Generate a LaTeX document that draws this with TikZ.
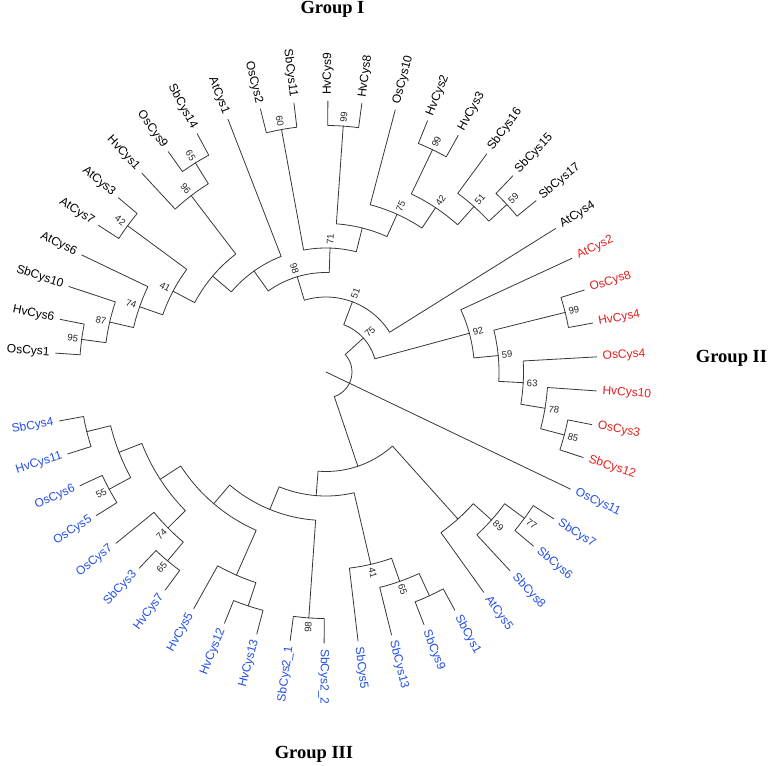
\documentclass[tikz,border=0pt]{standalone}
\usepackage{fontspec}
\setmainfont{Liberation Sans}
\newfontfamily\grpfont{Liberation Serif}
\definecolor{gtwo}{RGB}{228,28,28}
\definecolor{gthree}{RGB}{32,78,232}
\definecolor{brc}{RGB}{55,55,55}
\tikzset{
 br/.style={draw=brc, line width=0.8pt, line cap=round, line join=round},
 leaf/.style={font=\fontsize{12}{12}\selectfont, inner sep=2pt},
 gI/.style={text=black}, gII/.style={text=gtwo}, gIII/.style={text=gthree},
 bs/.style={font=\fontsize{9.5}{9.5}\selectfont, text=black!85, inner sep=0pt},
 grp/.style={font=\grpfont\bfseries\fontsize{18.5}{18.5}\selectfont, inner sep=0pt},
}
\newcommand\leafR[4]{\coordinate (#1) at (#2:271pt); \node[leaf,#4,rotate=#2,anchor=west] (t#1) at (#2:275pt) {#3};}
\newcommand\leafL[4]{\coordinate (#1) at (#2:271pt); \node[leaf,#4,rotate=#2+180,anchor=east] (t#1) at (#2:275pt) {#3};}
\newcommand\inode[3]{\coordinate (#1) at (#2:#3pt);}
\newcommand\branch[4]{\draw[br] (#1) -- (#2:#4pt) arc[start angle=#2, end angle=#3, radius=#4pt];}
\newcommand\bootR[4]{\node[bs,rotate=#2] (b#1) at (#2:#3pt) {#4};}
\newcommand\bootL[4]{\node[bs,rotate=#2+180] (b#1) at (#2:#3pt) {#4};}
\begin{document}
\begin{tikzpicture}
\useasboundingbox (0,0) rectangle (770pt,-765pt);
\node[grp] (grpI) at (332.5pt,-9.5pt) {Group I};
\node[grp] (grpII) at (731.5pt,-358pt) {Group II};
\node[grp] (grpIII) at (314pt,-754pt) {Group III};
\begin{scope}[shift={(326pt,-372pt)}]
% leaves
\leafL{OsCys1}{176}{OsCys1}{gI}
\leafL{HvCys6}{168.8}{HvCys6}{gI}
\leafL{SbCys10}{161.6}{SbCys10}{gI}
\leafL{AtCys6}{154.4}{AtCys6}{gI}
\leafL{AtCys7}{147.2}{AtCys7}{gI}
\leafL{AtCys3}{140}{AtCys3}{gI}
\leafL{HvCys1}{132.8}{HvCys1}{gI}
\leafL{OsCys9}{125.6}{OsCys9}{gI}
\leafL{SbCys14}{118.4}{SbCys14}{gI}
\leafL{AtCys1}{111.2}{AtCys1}{gI}
\leafL{OsCys2}{104}{OsCys2}{gI}
\leafL{SbCys11}{96.8}{SbCys11}{gI}
\leafR{HvCys9}{89.6}{HvCys9}{gI}
\leafR{HvCys8}{82.4}{HvCys8}{gI}
\leafR{OsCys10}{75.2}{OsCys10}{gI}
\leafR{HvCys2}{68}{HvCys2}{gI}
\leafR{HvCys3}{60.8}{HvCys3}{gI}
\leafR{SbCys16}{53.6}{SbCys16}{gI}
\leafR{SbCys15}{46.4}{SbCys15}{gI}
\leafR{SbCys17}{39.2}{SbCys17}{gI}
\leafR{AtCys4}{32}{AtCys4}{gI}
\leafR{AtCys2}{24.8}{AtCys2}{gII}
\leafR{OsCys8}{17.6}{OsCys8}{gII}
\leafR{HvCys4}{10.4}{HvCys4}{gII}
\leafR{OsCys4}{3.2}{OsCys4}{gII}
\leafR{HvCys10}{-4}{HvCys10}{gII}
\leafR{OsCys3}{-11.2}{OsCys3}{gII}
\leafR{SbCys12}{-18.4}{SbCys12}{gII}
\leafR{OsCys11}{-25.6}{OsCys11}{gIII}
\leafR{SbCys7}{-32.8}{SbCys7}{gIII}
\leafR{SbCys6}{-40}{SbCys6}{gIII}
\leafR{SbCys8}{-47.2}{SbCys8}{gIII}
\leafR{AtCys5}{-54.4}{AtCys5}{gIII}
\leafR{SbCys1}{-61.6}{SbCys1}{gIII}
\leafR{SbCys9}{-68.8}{SbCys9}{gIII}
\leafR{SbCys13}{-76}{SbCys13}{gIII}
\leafR{SbCys5}{-83.2}{SbCys5}{gIII}
\leafR{SbCysTwoB}{-90.4}{SbCys2\_2}{gIII}
\leafL{SbCysTwoA}{-97.6}{SbCys2\_1}{gIII}
\leafL{HvCys13}{-104.8}{HvCys13}{gIII}
\leafL{HvCys12}{-112}{HvCys12}{gIII}
\leafL{HvCys5}{-119.2}{HvCys5}{gIII}
\leafL{HvCys7}{-126.4}{HvCys7}{gIII}
\leafL{SbCys3}{-133.6}{SbCys3}{gIII}
\leafL{OsCys7}{-140.8}{OsCys7}{gIII}
\leafL{OsCys5}{-148}{OsCys5}{gIII}
\leafL{OsCys6}{-155.2}{OsCys6}{gIII}
\leafL{HvCys11}{-162.4}{HvCys11}{gIII}
\leafL{SbCys4}{-169.6}{SbCys4}{gIII}
% internal nodes
\inode{n95}{172.4}{246.5}
\inode{n87}{167}{222}
\inode{n74}{160.7}{197.5}
\inode{n42a}{143.6}{246.5}
\inode{n41}{152.15}{173}
\inode{n65a}{122}{246.5}
\inode{n96}{127.4}{222}
\inode{na}{139.775}{148.5}
\inode{nb}{125.4875}{124}
\inode{n60}{100.4}{246.5}
\inode{n99a}{86}{246.5}
\inode{n99b}{64.4}{246.5}
\inode{n59a}{42.8}{246.5}
\inode{n51a}{48.2}{222}
\inode{n42b}{56.3}{197.5}
\inode{n75a}{65.75}{173}
\inode{nc}{75.875}{148.5}
\inode{n71}{88.1375}{124}
\inode{n98a}{106.8125}{99.5}
\inode{n51b}{69.40625}{75}
\inode{n75b}{42.265625}{50.5}
\inode{n99c}{14}{246.5}
\inode{n85}{-14.8}{246.5}
\inode{n78}{-9.4}{222}
\inode{n63}{-3.1}{197.5}
\inode{n59b}{5.45}{173}
\inode{n92}{15.125}{148.5}
\inode{n77}{-36.4}{246.5}
\inode{n89}{-41.8}{222}
\inode{nx}{-48.1}{197.5}
\inode{nw}{-65.2}{246.5}
\inode{n65c}{-70.6}{222}
\inode{n41c}{-76.9}{197.5}
\inode{n98c}{-94}{246.5}
\inode{nt}{-108.4}{246.5}
\inode{ns}{-113.8}{222}
\inode{n65b}{-130}{246.5}
\inode{n74b}{-135.4}{222}
\inode{n55}{-151.6}{246.5}
\inode{nq1}{-166}{246.5}
\inode{nq2}{-158.8}{222}
\inode{nq3}{-147.1}{197.5}
\inode{nq4}{-130.45}{173}
\inode{np}{-112.225}{148.5}
\inode{nz}{-94.5625}{124}
\inode{ny}{-71.33125}{99.5}
\inode{root}{-25.6}{26}
\coordinate (ctr) at (0,0);
% group I branches
\branch{OsCys1}{176}{172.4}{246.5}
\branch{HvCys6}{168.8}{172.4}{246.5}
\branch{n95}{172.4}{167}{222}
\branch{SbCys10}{161.6}{167}{222}
\branch{n87}{167}{160.7}{197.5}
\branch{AtCys6}{154.4}{160.7}{197.5}
\branch{AtCys7}{147.2}{143.6}{246.5}
\branch{AtCys3}{140}{143.6}{246.5}
\branch{n74}{160.7}{152.15}{173}
\branch{n42a}{143.6}{152.15}{173}
\branch{HvCys1}{132.8}{127.4}{222}
\branch{OsCys9}{125.6}{122}{246.5}
\branch{SbCys14}{118.4}{122}{246.5}
\branch{n65a}{122}{127.4}{222}
\branch{n41}{152.15}{139.775}{148.5}
\branch{n96}{127.4}{139.775}{148.5}
\branch{na}{139.775}{125.4875}{124}
\branch{AtCys1}{111.2}{125.4875}{124}
\branch{OsCys2}{104}{100.4}{246.5}
\branch{SbCys11}{96.8}{100.4}{246.5}
\branch{HvCys9}{89.6}{86}{246.5}
\branch{HvCys8}{82.4}{86}{246.5}
\branch{OsCys10}{75.2}{65.75}{173}
\branch{HvCys2}{68}{64.4}{246.5}
\branch{HvCys3}{60.8}{64.4}{246.5}
\branch{SbCys16}{53.6}{48.2}{222}
\branch{SbCys15}{46.4}{42.8}{246.5}
\branch{SbCys17}{39.2}{42.8}{246.5}
\branch{n59a}{42.8}{48.2}{222}
\branch{n99b}{64.4}{56.3}{197.5}
\branch{n51a}{48.2}{56.3}{197.5}
\branch{n42b}{56.3}{65.75}{173}
\branch{n99a}{86}{75.875}{148.5}
\branch{n75a}{65.75}{75.875}{148.5}
\branch{n60}{100.4}{88.1375}{124}
\branch{nc}{75.875}{88.1375}{124}
\branch{nb}{125.4875}{106.8125}{99.5}
\branch{n71}{88.1375}{106.8125}{99.5}
\branch{n98a}{106.8125}{69.40625}{75}
\branch{AtCys4}{32}{69.40625}{75}
\branch{n51b}{69.40625}{42.265625}{50.5}
\branch{n92}{15.125}{42.265625}{50.5}
% group II branches
\branch{AtCys2}{24.8}{15.125}{148.5}
\branch{OsCys8}{17.6}{14}{246.5}
\branch{HvCys4}{10.4}{14}{246.5}
\branch{n99c}{14}{5.45}{173}
\branch{OsCys4}{3.2}{-3.1}{197.5}
\branch{HvCys10}{-4}{-9.4}{222}
\branch{OsCys3}{-11.2}{-14.8}{246.5}
\branch{SbCys12}{-18.4}{-14.8}{246.5}
\branch{n85}{-14.8}{-9.4}{222}
\branch{n78}{-9.4}{-3.1}{197.5}
\branch{n63}{-3.1}{5.45}{173}
\branch{n59b}{5.45}{15.125}{148.5}
% root
\branch{n75b}{42.265625}{-25.6}{26}
\branch{OsCys11}{-25.6}{-25.6}{26}
\branch{ny}{-71.33125}{-25.6}{26}
\draw[br] (root) -- (ctr);
% group III branches
\branch{SbCys7}{-32.8}{-36.4}{246.5}
\branch{SbCys6}{-40}{-36.4}{246.5}
\branch{n77}{-36.4}{-41.8}{222}
\branch{SbCys8}{-47.2}{-41.8}{222}
\branch{n89}{-41.8}{-48.1}{197.5}
\branch{AtCys5}{-54.4}{-48.1}{197.5}
\branch{SbCys1}{-61.6}{-65.2}{246.5}
\branch{SbCys9}{-68.8}{-65.2}{246.5}
\branch{nw}{-65.2}{-70.6}{222}
\branch{SbCys13}{-76}{-70.6}{222}
\branch{n65c}{-70.6}{-76.9}{197.5}
\branch{SbCys5}{-83.2}{-76.9}{197.5}
\branch{SbCysTwoB}{-90.4}{-94}{246.5}
\branch{SbCysTwoA}{-97.6}{-94}{246.5}
\branch{HvCys13}{-104.8}{-108.4}{246.5}
\branch{HvCys12}{-112}{-108.4}{246.5}
\branch{nt}{-108.4}{-113.8}{222}
\branch{HvCys5}{-119.2}{-113.8}{222}
\branch{HvCys7}{-126.4}{-130}{246.5}
\branch{SbCys3}{-133.6}{-130}{246.5}
\branch{n65b}{-130}{-135.4}{222}
\branch{OsCys7}{-140.8}{-135.4}{222}
\branch{OsCys5}{-148}{-151.6}{246.5}
\branch{OsCys6}{-155.2}{-151.6}{246.5}
\branch{HvCys11}{-162.4}{-166}{246.5}
\branch{SbCys4}{-169.6}{-166}{246.5}
\branch{n55}{-151.6}{-158.8}{222}
\branch{nq1}{-166}{-158.8}{222}
\branch{n74b}{-135.4}{-147.1}{197.5}
\branch{nq2}{-158.8}{-147.1}{197.5}
\branch{ns}{-113.8}{-130.45}{173}
\branch{nq3}{-147.1}{-130.45}{173}
\branch{n98c}{-94}{-112.225}{148.5}
\branch{nq4}{-130.45}{-112.225}{148.5}
\branch{n41c}{-76.9}{-94.5625}{124}
\branch{np}{-112.225}{-94.5625}{124}
\branch{nx}{-48.1}{-71.33125}{99.5}
\branch{nz}{-94.5625}{-71.33125}{99.5}
% bootstrap values
\bootL{n95}{172.4}{255.5}{95}
\bootL{n87}{167}{231}{87}
\bootL{n74}{160.7}{206.5}{74}
\bootL{n42a}{143.6}{255.5}{42}
\bootL{n41}{152.15}{182}{41}
\bootL{n65a}{122}{255.5}{65}
\bootL{n96}{127.4}{231}{96}
\bootL{n60}{100.4}{255.5}{60}
\bootR{n99a}{86}{255.5}{99}
\bootR{n99b}{64.4}{255.5}{99}
\bootR{n59a}{42.8}{255.5}{59}
\bootR{n51a}{48.2}{231}{51}
\bootR{n42b}{56.3}{206.5}{42}
\bootR{n75a}{65.75}{182}{75}
\bootR{n71}{88.1375}{133}{71}
\bootL{n98a}{106.8125}{108.5}{98}
\bootR{n51b}{69.40625}{84}{51}
\bootR{n75b}{42.265625}{59.5}{75}
\bootR{n99c}{14}{255.5}{99}
\bootR{n85}{-14.8}{255.5}{85}
\bootR{n78}{-9.4}{231}{78}
\bootR{n63}{-3.1}{206.5}{63}
\bootR{n59b}{5.45}{182}{59}
\bootR{n92}{15.125}{157.5}{92}
\bootR{n77}{-36.4}{255.5}{77}
\bootR{n89}{-41.8}{231}{89}
\bootR{n65c}{-70.6}{231}{65}
\bootR{n41c}{-76.9}{206.5}{41}
\bootL{n98c}{-94}{255.5}{98}
\bootL{n65b}{-130}{255.5}{65}
\bootL{n74b}{-135.4}{231}{74}
\bootL{n55}{-151.6}{255.5}{55}
\end{scope}
\end{tikzpicture}
\end{document}
